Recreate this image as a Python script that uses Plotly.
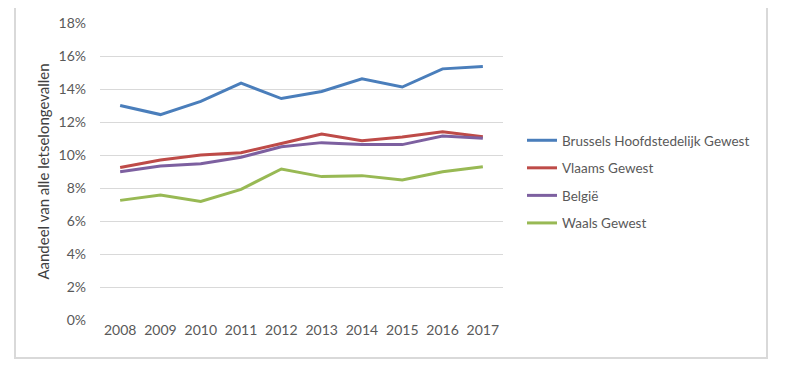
import plotly.graph_objects as go

years = [2008, 2009, 2010, 2011, 2012, 2013, 2014, 2015, 2016, 2017]
year_labels = [str(y) for y in years]

brussels = [13.0, 12.45, 13.25, 14.35, 13.42, 13.85, 14.62, 14.12, 15.22, 15.36]
vlaams = [9.24, 9.70, 10.00, 10.14, 10.70, 11.27, 10.87, 11.09, 11.41, 11.11]
belgie = [8.99, 9.33, 9.47, 9.86, 10.50, 10.75, 10.63, 10.63, 11.15, 11.01]
waals = [7.25, 7.58, 7.19, 7.92, 9.15, 8.69, 8.75, 8.48, 8.99, 9.29]

series_names = ["Brussels Hoofdstedelijk Gewest", "Vlaams Gewest", "België", "Waals Gewest"]
series_values = [brussels, vlaams, belgie, waals]
colors = ["#4A7EBB", "#BE4B48", "#7D60A0", "#98B954"]

y_ticks = [0, 2, 4, 6, 8, 10, 12, 14, 16, 18]
y_tick_labels = [f"{v}%" for v in y_ticks]

# page body margin offset (8px) compensated
OFF = 8
W, H = 797 - OFF, 370 - OFF
L, T = 100 - OFF, 23 - OFF
pw, ph = 403, 297
R, B = W - L - pw, H - T - ph

fig = go.Figure()
for i, (name, vals, col) in enumerate(zip(series_names, series_values, colors)):
    fig.add_trace(go.Scatter(
        x=years, y=vals, name=name, mode="lines",
        line=dict(color=col, width=3),
        legendgroup=f"g{i}",
    ))

font_family = "Lato, 'Open Sans', sans-serif"

def px_x(x):
    return (x - OFF - L) / pw

def px_y(y):
    return (T + ph - (y - OFF)) / ph

fig.update_layout(
    width=W, height=H,
    margin=dict(l=L, r=R, t=T, b=B, autoexpand=False),
    paper_bgcolor="white", plot_bgcolor="white",
    font=dict(family=font_family, color="#595959", size=13),
    showlegend=True,
    legend=dict(
        x=px_x(522), y=px_y(125), xanchor="left", yanchor="top",
        font=dict(size=13.5, color="#595959", family=font_family),
        tracegroupgap=7, bgcolor="rgba(0,0,0,0)",
    ),
    xaxis=dict(
        range=[2007.5, 2017.5], tickmode="array", tickvals=years, ticktext=year_labels,
        showgrid=False, zeroline=False, showline=False, ticks="",
        tickfont=dict(size=14, color="#595959"),
    ),
    yaxis=dict(
        range=[0, 18], tickmode="array", tickvals=y_ticks, ticktext=y_tick_labels,
        showgrid=True, gridcolor="#D9D9D9", gridwidth=1, zeroline=False, showline=False,
        ticks="", ticklabelstandoff=13,
        tickfont=dict(size=14, color="#595959"),
        title=dict(text="Aandeel van alle letselongevallen", font=dict(size=15, color="#404040"), standoff=5),
    ),
    shapes=[dict(
        type="rect", xref="paper", yref="paper",
        x0=px_x(15), x1=px_x(767), y0=px_y(358), y1=px_y(5),
        line=dict(color="#D9D9D9", width=2), fillcolor="rgba(0,0,0,0)", layer="below",
    )],
)

fig.write_html("out.html")
